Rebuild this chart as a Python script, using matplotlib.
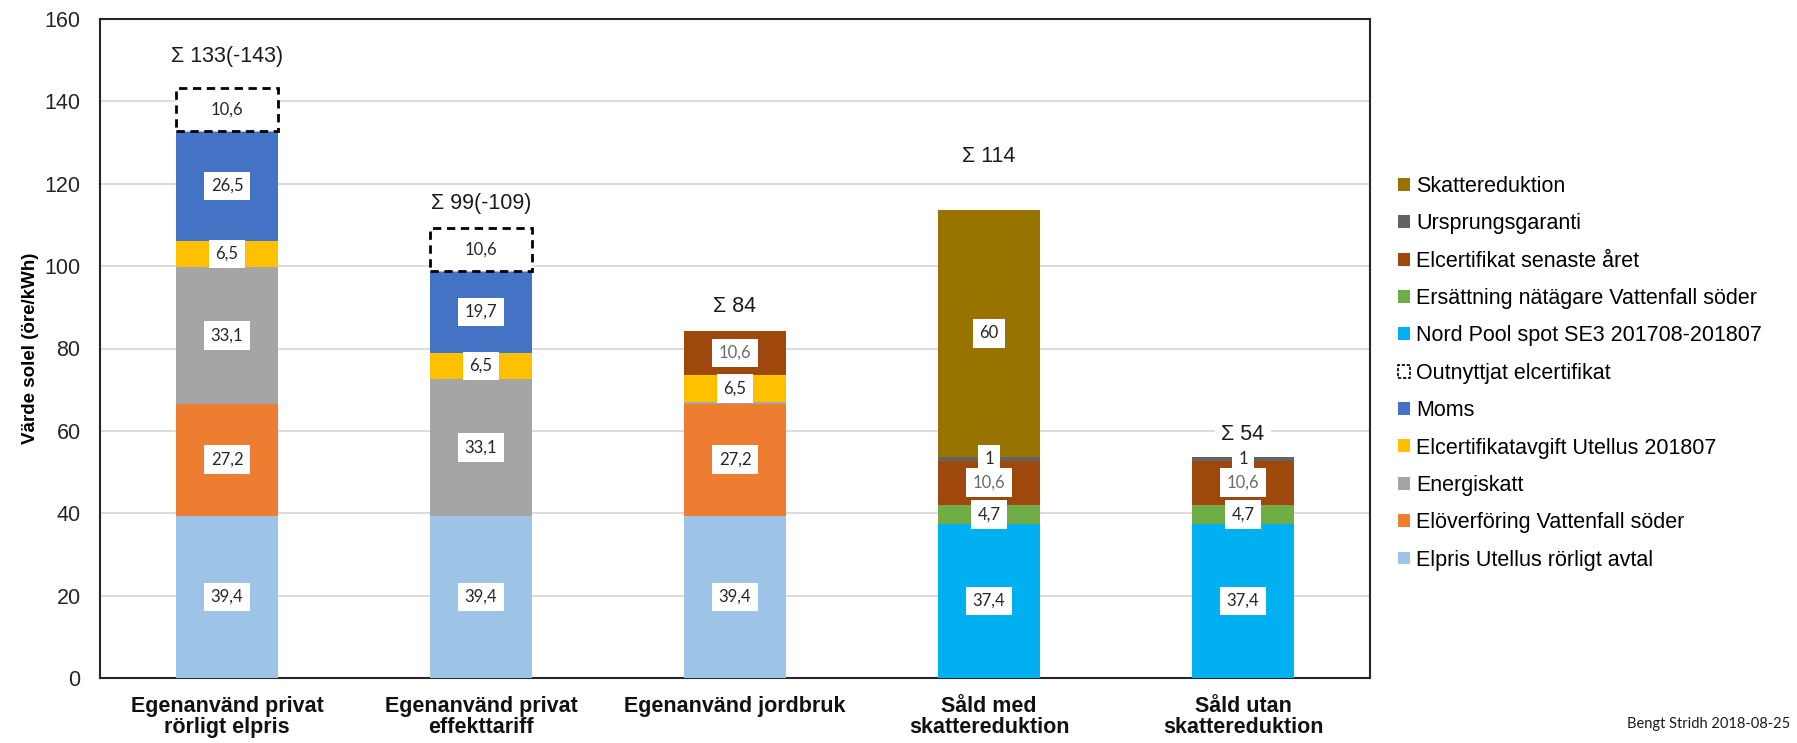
import matplotlib
matplotlib.use("Agg")
import matplotlib.pyplot as plt
from matplotlib.patches import Patch
import numpy as np

# categories (x axis)
categories = ["Egenanvänd privat\nrörligt elpris", "Egenanvänd privat\neffekttariff",
              "Egenanvänd jordbruk", "Såld med\nskattereduktion", "Såld utan\nskattereduktion"]

# series, bottom to top (öre/kWh)
elpris = [39.4, 39.4, 39.4, 0, 0]
eloverforing = [27.2, 0, 27.2, 0, 0]
energiskatt = [33.1, 33.1, 0.5, 0, 0]
elcert_avgift = [6.5, 6.5, 6.5, 0, 0]
moms = [26.5, 19.7, 0, 0, 0]
outnyttjat = [10.6, 10.6, 0, 0, 0]
nordpool = [0, 0, 0, 37.4, 37.4]
ersattning = [0, 0, 0, 4.7, 4.7]
elcert_senaste = [0, 0, 10.6, 10.6, 10.6]
ursprung = [0, 0, 0, 1, 1]
skattereduktion = [0, 0, 0, 60, 0]

series_names = ["Elpris Utellus rörligt avtal", "Elöverföring Vattenfall söder", "Energiskatt",
                "Elcertifikatavgift Utellus 201807", "Moms", "Outnyttjat elcertifikat",
                "Nord Pool spot SE3 201708-201807", "Ersättning nätägare Vattenfall söder",
                "Elcertifikat senaste året", "Ursprungsgaranti", "Skattereduktion"]
series_values = [elpris, eloverforing, energiskatt, elcert_avgift, moms, outnyttjat,
                 nordpool, ersattning, elcert_senaste, ursprung, skattereduktion]
series_colors = ["#9DC3E6", "#ED7D31", "#A5A5A5", "#FFC000", "#4472C4", "white",
                 "#00B0F0", "#70AD47", "#9E480E", "#636363", "#997300"]
label_colors = ["#262626"] * 8 + ["#6b6b6b", "#262626", "#262626"]

# extra space between bar top and the sum label (data units)
sum_offsets = [7.5, 6.0, 6.0, 13.0, 5.5]

fig = plt.figure(figsize=(17.97, 7.43), dpi=100)
ax = fig.add_axes([100 / 1797, 1 - 678 / 743, 1270 / 1797, 659 / 743])

x = np.arange(len(categories))
width = 0.40
bottom = np.zeros(len(categories))
handles = []
for name, vals, col, lcol in zip(series_names, series_values, series_colors, label_colors):
    vals = np.array(vals, dtype=float)
    dashed = name == "Outnyttjat elcertifikat"
    keep = vals > 0
    if dashed:
        ax.bar(x[keep], vals[keep], width, bottom=bottom[keep], color="white", edgecolor="black",
               linewidth=2, linestyle=(0, (3, 2)), zorder=3)
    else:
        ax.bar(x[keep], vals[keep], width, bottom=bottom[keep], color=col, linewidth=0, zorder=3)
    for xi, v, b in zip(x, vals, bottom):
        if v >= 1:
            txt = f"{v:g}".replace(".", ",")
            ax.text(xi, b + v / 2, txt, ha="center", va="center", fontsize=12,
                    family="Lato", color=lcol, zorder=5,
                    bbox=dict(boxstyle="square,pad=0.38", fc="white", ec="none"))
    bottom += vals
    if dashed:
        handles.append(Patch(facecolor="white", edgecolor="black", linewidth=1.2,
                             linestyle=(0, (2, 1)), label=name))
    else:
        handles.append(Patch(facecolor=col, edgecolor="none", label=name))

# sum labels
used = bottom - np.array(outnyttjat)
for xi, tot_used, tot, off, extra in zip(x, used, bottom, sum_offsets, outnyttjat):
    if extra > 0:
        s = f"Σ {tot_used:.0f}(-{tot:.0f})"
    else:
        s = f"Σ {tot:.0f}"
    ax.text(xi, tot + off, s, ha="center", va="center", fontsize=15.5,
            family="Liberation Sans", color="#1a1a1a", zorder=5,
            bbox=dict(boxstyle="square,pad=0.3", fc="white", ec="none"))

ax.set_xlim(-0.5, len(categories) - 0.5)
ax.set_ylim(0, 160)
ax.set_yticks(np.arange(0, 161, 20))
ax.yaxis.grid(True, color="#d9d9d9", linewidth=1.3, zorder=0)
ax.set_axisbelow(True)
ax.tick_params(axis="both", length=0)
ax.tick_params(axis="y", pad=14, labelsize=15.5, labelcolor="#262626")
ax.tick_params(axis="x", pad=13)
for lab in ax.get_yticklabels():
    lab.set_family("Liberation Sans")
ax.set_xticks(x)
ax.set_xticklabels(categories, fontsize=15.5, fontweight="bold",
                   family="Liberation Sans", linespacing=1.0, color="#111111")
for sp in ax.spines.values():
    sp.set_color("#262626")
    sp.set_linewidth(1.5)

ax.set_ylabel("Värde solel (öre/kWh)", fontsize=13.5, fontweight="bold",
              family="Liberation Sans", labelpad=4)

fig.legend(handles=handles[::-1], loc="upper left", bbox_to_anchor=(1398 / 1797, 1 - 176 / 743),
           frameon=False, prop={"family": "Liberation Sans", "size": 15.5},
           handlelength=0.55, handleheight=0.55, handletextpad=0.3,
           labelspacing=0.76, borderpad=0, borderaxespad=0)

fig.text(1709 / 1797, 1 - 724 / 743, "Bengt Stridh 2018-08-25", ha="center", va="center",
         fontsize=10.5, family="Lato", color="#1a1a1a")

fig.savefig("out.png", dpi=100)
